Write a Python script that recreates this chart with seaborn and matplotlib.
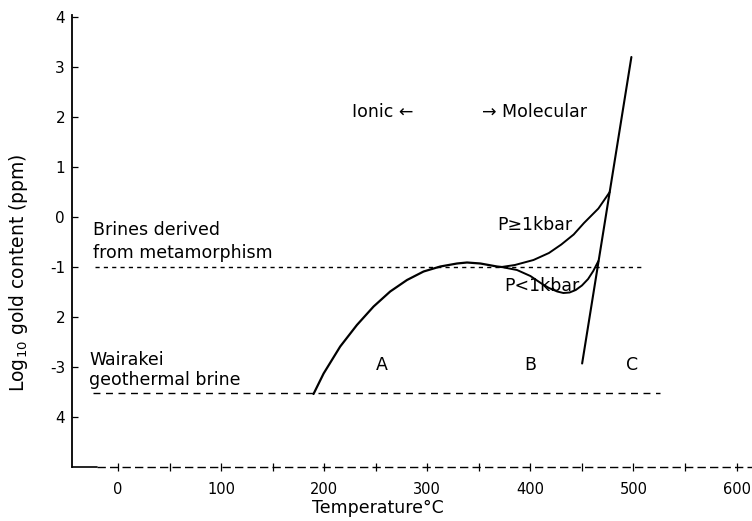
import matplotlib
matplotlib.use("Agg")
import matplotlib.pyplot as plt
import seaborn as sns
import pandas as pd

# ---- data ----
curve_a_t = [189.6, 199.4, 215.5, 231.7, 247.9, 264.0, 280.3, 296.4, 312.6, 328.8, 338.5, 351.5, 367.6, 372.0]
curve_a_y = [-3.54, -3.13, -2.59, -2.16, -1.79, -1.49, -1.26, -1.09, -0.99, -0.93, -0.91, -0.93, -0.99, -1.0]

high_p_t = [372.0, 385.0, 403.0, 418.0, 430.0, 442.0, 452.0, 466.0, 477.0]
high_p_y = [-1.0, -0.96, -0.86, -0.72, -0.55, -0.35, -0.12, 0.17, 0.5]

low_p_t = [372.0, 387.0, 400.0, 410.0, 418.0, 426.0, 432.0, 438.0, 444.0, 450.0, 456.0, 461.0, 466.0]
low_p_y = [-1.0, -1.06, -1.18, -1.32, -1.42, -1.49, -1.52, -1.51, -1.46, -1.37, -1.24, -1.08, -0.88]

steep_t = [450.2, 498.0]
steep_y = [-2.93, 3.2]

metamorphic_t = [-22.0, 507.0]
metamorphic_y = [-1.0, -1.0]

wairakei_t = [-24.0, 526.0]
wairakei_y = [-3.52, -3.52]

x_ticks = [0, 100, 200, 300, 400, 500, 600]
x_minor = [50, 150, 250, 350, 450, 550]
x_ticklabels = ["0", "100", "200", "300", "400", "500", "600"]
y_ticks = [4, 3, 2, 1, 0, -1, -2, -3, -4]
y_ticklabels = ["4", "3", "2", "1", "0", "-1", "2", "-3", "4"]

sns.set_style("ticks")
plt.rcParams['font.family'] = ['DejaVu Sans']
plt.rcParams['text.color'] = 'black'
plt.rcParams['axes.labelcolor'] = 'black'
plt.rcParams['xtick.color'] = 'black'
plt.rcParams['ytick.color'] = 'black'

fig = plt.figure(figsize=(7.52, 5.21), dpi=100)
ax = fig.add_axes([72 / 752, 54 / 521, 1 - 72 / 752, (467 - 15) / 521])

def draw(t, y, **kw):
    df = pd.DataFrame({"T": t, "y": y})
    sns.lineplot(data=df, x="T", y="y", ax=ax, sort=False, estimator=None,
                 color="black", **kw)

draw(curve_a_t, curve_a_y, linewidth=1.6)
draw(high_p_t, high_p_y, linewidth=1.4)
draw(low_p_t, low_p_y, linewidth=1.4)
draw(steep_t, steep_y, linewidth=1.5)
draw(metamorphic_t, metamorphic_y, linewidth=1.0, linestyle=(0, (3, 3)))
draw(wairakei_t, wairakei_y, linewidth=1.0, linestyle=(0, (5, 4)))

ax.set_xlim(-44.7, 615)
ax.set_ylim(-5, 4.04)

# axes styling
ax.spines['top'].set_visible(False)
ax.spines['right'].set_visible(False)
ax.spines['bottom'].set_visible(False)
ax.spines['left'].set_linewidth(1.3)
ax.spines['left'].set_color("black")

# bottom axis: short solid start, then dashed line
ax.plot([-44.7, -20], [-5, -5], color="black", lw=1.2, clip_on=False)
ax.plot([-20, 615], [-5, -5], color="black", lw=1.0, linestyle=(0, (6, 3)), clip_on=False)

ax.set_xticks(x_ticks)
ax.set_xticklabels(x_ticklabels, fontsize=10.5)
ax.set_xticks(x_minor, minor=True)
ax.tick_params(axis='x', which='both', direction='inout', length=6, width=0.9, color="black", pad=8)
ax.set_yticks(y_ticks)
ax.set_yticklabels(y_ticklabels, fontsize=11)
ax.tick_params(axis='y', direction='in', length=4, width=0.9, color="black", pad=5)

ax.set_xlabel("Temperature°C", fontsize=12.5)
ax.xaxis.set_label_coords((378 - 72) / 680, -0.07)
ax.set_ylabel("Log$_{10}$ gold content (ppm)", fontsize=13.5)
ax.yaxis.set_label_coords(-0.062, 0.43)

# annotations
fs = 12.5
ax.text(227, 2.1, "Ionic \u2190", fontsize=fs, va="center", ha="left")
ax.text(353, 2.1, "\u2192 Molecular", fontsize=fs, va="center", ha="left")
ax.text(-24, -0.26, "Brines derived", fontsize=fs, va="center", ha="left")
ax.text(-24, -0.72, "from metamorphism", fontsize=fs, va="center", ha="left")
ax.text(-28, -2.86, "Wairakei", fontsize=fs, va="center", ha="left")
ax.text(-28, -3.26, "geothermal brine", fontsize=fs, va="center", ha="left")
ax.text(368, -0.16, "P\u22651kbar", fontsize=fs, va="center", ha="left")
ax.text(375, -1.38, "P<1kbar", fontsize=fs, va="center", ha="left")
ax.text(256, -2.96, "A", fontsize=fs, va="center", ha="center")
ax.text(400, -2.96, "B", fontsize=fs, va="center", ha="center")
ax.text(499, -2.96, "C", fontsize=fs, va="center", ha="center")

fig.savefig("out.png", dpi=100)
